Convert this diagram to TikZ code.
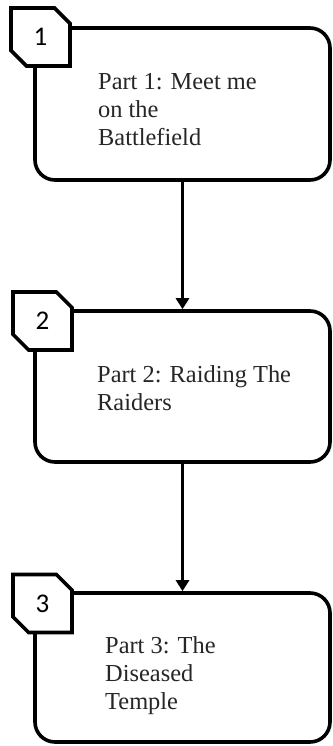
\documentclass[tikz,border=0pt]{standalone}
\usepackage{fontspec}
\setmainfont{Liberation Serif}
\newfontfamily\numfont{Carlito}
\usetikzlibrary{shapes.misc,arrows.meta}
\tikzset{
  partbox/.style={draw=black, line width=3.6pt, rounded corners=20pt, fill=white,
    minimum width=295pt, inner sep=0pt},
  tagbox/.style={chamfered rectangle, chamfered rectangle corners={north east,south west},
    chamfered rectangle sep=9pt, draw=black, line width=3.6pt, fill=white,
    minimum width=59pt, minimum height=58pt, inner sep=0pt, font=\numfont\fontsize{27}{29}\selectfont},
  parttext/.style={anchor=west, align=left, inner sep=0pt, text=black!85,
    font=\fontsize{24.4}{28}\selectfont},
  arr/.style={line width=3pt, -{Triangle[width=13pt,length=11pt]}}
}
\begin{document}
\begin{tikzpicture}[x=1pt,y=-1pt]
\useasboundingbox (0,0) rectangle (332,746);
\node[partbox, minimum height=152pt] (b1) at (182.5,104) {};
\node[partbox, minimum height=151pt] (b2) at (182.5,386.5) {};
\node[partbox, minimum height=149pt] (b3) at (182.5,667.5) {};
\node[tagbox] (t1) at (40.5,37) {1};
\node[tagbox] (t2) at (42.5,321) {2};
\node[tagbox] (t3) at (42.5,603.5) {3};
\node[parttext] (x1) at (98,110) {Part 1: Meet me\\on the\\Battlefield};
\node[parttext] (x2) at (97,388) {Part 2: Raiding The\\Raiders};
\node[parttext] (x3) at (105,676) {Part 3: The\\Diseased\\Temple};
\draw[arr] (b1.south) -- (b2.north);
\draw[arr] (b2.south) -- (b3.north);
\end{tikzpicture}
\end{document}
